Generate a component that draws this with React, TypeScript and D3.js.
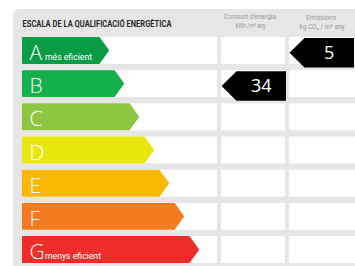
import * as d3 from "d3";

const classes = ["A", "B", "C", "D", "E", "F", "G"];
const classColors = ["#0a9b47", "#14b04b", "#8dc63f", "#e9e60e", "#fbb800", "#f47b20", "#ee2c2a"];
const classNotes: Record<string, string> = { A: "més eficient", G: "menys eficient" };

// indicators: value and the class row they point at
const consum = { value: 34, cls: "B" };
const emissions = { value: 5, cls: "A" };

const W = 355;
const H = 266;

export default function App() {
  const y = d3.scaleBand<string>().domain(classes).range([37, 263]).paddingInner(0.19).paddingOuter(0);
  const tipX = d3.scaleLinear().domain([0, classes.length - 1]).range([109, 199]);
  const rowH = y.bandwidth();

  const line = d3.line<[number, number]>();

  // columns: scale, consumption, emissions
  const cols = [
    { x0: 22, x1: 217 },
    { x0: 221, x1: 285 },
    { x0: 289, x1: 360 },
  ];

  const bar = (i: number) => {
    const top = y(classes[i])! + 1;
    const bot = top + rowH - 2;
    const tx = tipX(i) - 1;
    const mid = (top + bot) / 2;
    return line([
      [23, top],
      [tx - 9, top],
      [tx, mid],
      [tx - 9, bot],
      [23, bot],
    ]) + "Z";
  };

  const pointer = (cls: string, col: { x0: number; x1: number }) => {
    const top = y(cls)! + 1;
    const bot = top + 29.5;
    const mid = (top + bot) / 2;
    const tip = col.x0 + 0.5;
    const right = Math.min(col.x1 + 1, W - 1);
    return {
      d: line([
        [tip, mid],
        [tip + 15, top],
        [right, top],
        [right, bot],
        [tip + 15, bot],
      ]) + "Z",
      cx: (tip + 15 + right) / 2,
      base: mid + 6.5,
    };
  };

  const p1 = pointer(consum.cls, cols[1]);
  const p2 = pointer(emissions.cls, cols[2]);

  return (
    <svg width={W} height={H} style={{ position: "absolute", left: 0, top: 0 }}>
      <rect width={W} height={H} fill="#fff" />
      <rect x={13} y={9} width={W + 20} height={H + 20} rx={6} fill="#e6e6e6" />

      <text x={22.5} y={26.5} fontFamily="Roboto, sans-serif" fontWeight="bold"
        fontSize={9.6} fill="#2a2a2a" textLength={149} lengthAdjust="spacingAndGlyphs">
        ESCALA DE LA QUALIFICACIÓ ENERGÈTICA
      </text>
      <g fontFamily="Roboto, sans-serif" fill="#9a9a9a" textAnchor="middle">
        <text x={250} y={19} fontSize={8} textLength={52} lengthAdjust="spacingAndGlyphs">Consum d'energia</text>
        <text x={250.5} y={28} fontSize={6.5} textLength={30} lengthAdjust="spacingAndGlyphs">kWh /m² any</text>
        <text x={321} y={19.5} fontSize={8} textLength={30} lengthAdjust="spacingAndGlyphs">Emissions</text>
        <text x={322} y={28.5} fontSize={6.5} textLength={45} lengthAdjust="spacingAndGlyphs">kg CO₂ / m² any</text>
      </g>

      {classes.map((c) =>
        cols.map((col, j) => (
          <rect key={c + j} x={col.x0} y={y(c)} width={col.x1 - col.x0} height={rowH} fill="#fff" />
        ))
      )}

      {classes.map((c, i) => (
        <g key={c}>
          <path d={bar(i)} fill={classColors[i]} stroke={classColors[i]} strokeWidth={2} strokeLinejoin="round" />
          <text x={29.5} y={y(c)! + 23} fontFamily="Open Sans, sans-serif" fontWeight={300} fontSize={21} fill="#fff">
            {c}
          </text>
          {classNotes[c] && (
            <text x={45} y={y(c)! + 23} fontFamily="Roboto, sans-serif" fontSize={8.5}
              fill="#fff" textLength={c === "A" ? 47 : 56} lengthAdjust="spacingAndGlyphs">
              {classNotes[c]}
            </text>
          )}
        </g>
      ))}

      {[
        { p: p1, v: consum.value },
        { p: p2, v: emissions.value },
      ].map(({ p, v }, k) => (
        <g key={k}>
          <path d={p.d} fill="#000" />
          <text x={p.cx} y={p.base} textAnchor="middle" fontFamily="Open Sans, sans-serif" fontSize={18} fill="#fff">
            {v}
          </text>
        </g>
      ))}
    </svg>
  );
}
